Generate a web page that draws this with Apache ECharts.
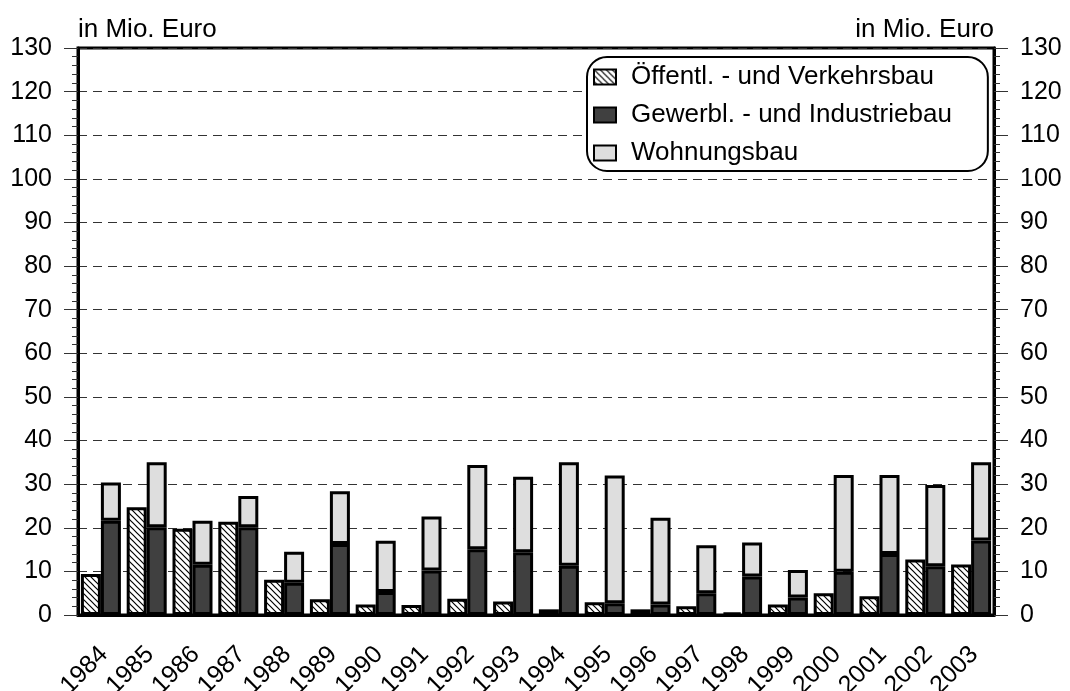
<!DOCTYPE html>
<html lang="de">
<head>
    <meta charset="UTF-8">
    <title>Bauinvestitionen</title>
    <script src="https://cdn.jsdelivr.net/npm/echarts@6.0.0/dist/echarts.min.js"></script>
    <style>
        html, body { margin: 0; padding: 0; background: #fff; }
        #chart { width: 1070px; height: 691px; }
    </style>
</head>
<body>
    <div id="chart"></div>
    <script>
        // Daten (in Mio. Euro)
        var years = ['1984', '1985', '1986', '1987', '1988', '1989', '1990', '1991', '1992', '1993',
            '1994', '1995', '1996', '1997', '1998', '1999', '2000', '2001', '2002', '2003'];
        var oeffentlBau = [9.4, 24.7, 19.8, 21.4, 8.1, 3.6, 2.4, 2.3, 3.7, 3.1,
            1.3, 2.9, 1.3, 2.0, 0.6, 2.4, 5.0, 4.3, 12.7, 11.6];
        var gewerbeBau = [21.6, 20.1, 11.5, 20.1, 7.4, 16.3, 5.3, 10.2, 15.1, 14.4,
            11.3, 2.7, 2.4, 5.0, 8.8, 4.0, 9.9, 14.0, 11.2, 17.1];
        var wohnungsBau = [8.8, 14.9, 10.1, 7.2, 7.1, 12.1, 11.7, 12.4, 19.3, 17.3,
            23.7, 29.3, 19.9, 11.0, 7.8, 6.3, 22.2, 18.1, 18.6, 17.9];
        var yTicks = [0, 130, 10];

        var font = 'Liberation Sans, Arial, sans-serif';

        // Schraffur fuer Oeffentl. Bau
        var hatch = document.createElement('canvas');
        hatch.width = 6;
        hatch.height = 6;
        var ctx = hatch.getContext('2d');
        ctx.fillStyle = '#fff';
        ctx.fillRect(0, 0, 6, 6);
        ctx.strokeStyle = '#000';
        ctx.lineWidth = 1.2;
        ctx.beginPath();
        ctx.moveTo(-1, -1); ctx.lineTo(7, 7);
        ctx.moveTo(-1, 5); ctx.lineTo(1, 7);
        ctx.moveTo(5, -1); ctx.lineTo(7, 1);
        ctx.stroke();

        var chart = echarts.init(document.getElementById('chart'));

        function yAxis(pos, showSplit) {
            return {
                type: 'value',
                position: pos,
                min: yTicks[0],
                max: yTicks[1],
                interval: yTicks[2],
                name: 'in Mio. Euro',
                nameLocation: 'end',
                nameGap: 5,
                nameTextStyle: { fontSize: 26, color: '#000', fontFamily: font, align: pos == 'left' ? 'left' : 'right' },
                axisLine: { show: true, lineStyle: { color: '#000', width: 3 } },
                axisTick: { show: true, length: 14, lineStyle: { color: '#333', width: 1 } },
                minorTick: { show: true, splitNumber: 5, length: 6, lineStyle: { color: '#333', width: 1 } },
                axisLabel: { fontSize: 25, color: '#000', fontFamily: font, margin: 26 },
                splitLine: { show: showSplit, lineStyle: { color: '#333', width: 1, type: [9, 6] } }
            };
        }

        var option = {
            animation: false,
            backgroundColor: '#fff',
            grid: {
                left: 78,
                right: 76,
                top: 48,
                bottom: 76,
                outerBoundsMode: 'none',
                containLabel: false,
                show: true,
                borderColor: '#000',
                borderWidth: 3
            },
            legend: {
                orient: 'vertical',
                left: 587,
                top: 57,
                padding: [7, 36, 5, 6],
                itemGap: 12,
                itemWidth: 22,
                itemHeight: 15,
                icon: 'rect',
                borderColor: '#000',
                borderWidth: 2,
                borderRadius: 20,
                backgroundColor: '#fff',
                itemStyle: { borderColor: '#000', borderWidth: 2 },
                textStyle: { fontSize: 26, color: '#000', fontFamily: font, padding: [0, 0, 0, 10] },
                data: ['Öffentl. - und Verkehrsbau', 'Gewerbl. - und Industriebau', 'Wohnungsbau']
            },
            xAxis: {
                type: 'category',
                data: years,
                boundaryGap: true,
                axisLine: { lineStyle: { color: '#000', width: 3 } },
                axisTick: { alignWithLabel: true, length: 13, lineStyle: { color: '#666', width: 1 } },
                axisLabel: {
                    interval: 0, rotate: 45, fontSize: 25, color: '#000', fontFamily: font,
                    margin: 21, verticalAlign: 'top', padding: [0, 8, 0, 0]
                }
            },
            yAxis: [yAxis('left', true), yAxis('right', false)],
            series: [
                {
                    name: 'Öffentl. - und Verkehrsbau',
                    type: 'bar',
                    barWidth: 20,
                    barGap: '0%',
                    itemStyle: { color: { image: hatch, repeat: 'repeat' }, borderColor: '#000', borderWidth: 3 },
                    data: oeffentlBau
                },
                {
                    name: 'Gewerbl. - und Industriebau',
                    type: 'bar',
                    stack: 'rechts',
                    barWidth: 20,
                    itemStyle: { color: '#404040', borderColor: '#000', borderWidth: 3 },
                    data: gewerbeBau
                },
                {
                    name: 'Wohnungsbau',
                    type: 'bar',
                    stack: 'rechts',
                    barWidth: 20,
                    itemStyle: { color: '#dedede', borderColor: '#000', borderWidth: 3 },
                    data: wohnungsBau
                }
            ]
        };
        chart.setOption(option);
    </script>
</body>
</html>
